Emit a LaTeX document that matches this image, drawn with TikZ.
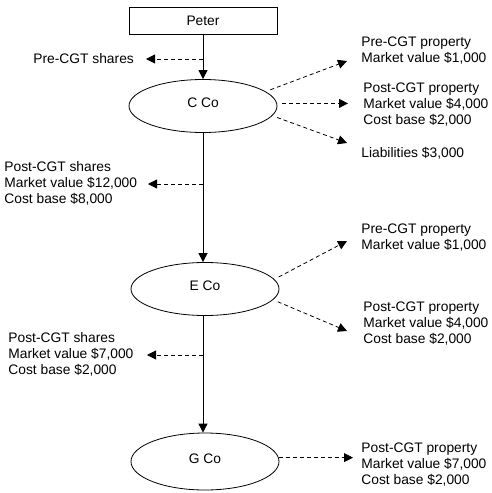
\documentclass[tikz,border=0pt]{standalone}
\usepackage{fontspec}
\setmainfont{Liberation Sans}
\usetikzlibrary{arrows.meta,shapes.geometric}
\tikzset{
  txt/.style = {inner sep = 0pt, anchor = west, align = left},
  co/.style = {draw, ellipse, minimum width = 148pt, minimum height = 53pt, inner sep = 0pt, text depth = 6pt},
  own/.style = {draw, -{Triangle[length = 9pt, width = 9pt]}},
  asset/.style = {draw, dash pattern = on 4pt off 3pt, -{Triangle[length = 9pt, width = 9pt]}}
}
\begin{document}
\begin{tikzpicture}[x = 1pt, y = -1pt, line width = 0.8pt, every node/.style = {font = \fontsize{13.8pt}{16pt}\selectfont}]
            \useasboundingbox (0,0) rectangle (491,493);
            % Peter
            \node[draw, minimum width = 148pt, minimum height = 27pt, inner sep = 0pt](peter)at(203,20.5){Peter};
            % 会社
            \node[co](cco)at(203,106){C Co};
            \node[co](eco)at(205,289){E Co};
            \node[co, minimum height = 57pt](gco)at(205,461.5){G Co};
            % 株式
            \node[txt](s1)at(33,59){Pre-CGT shares};
            \node[txt](s2)at(4,183){Post-CGT shares\\Market value \$12,000\\Cost base \$8,000};
            \node[txt](s3)at(8,354){Post-CGT shares\\Market value \$7,000\\Cost base \$2,000};
            % 資産 C Co
            \node[txt](a1)at(361,51){Pre-CGT property\\Market value \$1,000};
            \node[txt](a2)at(363,105){Post-CGT property\\Market value \$4,000\\Cost base \$2,000};
            \node[txt](a3)at(361,153){Liabilities \$3,000};
            % 資産 E Co
            \node[txt](a4)at(361,238){Pre-CGT property\\Market value \$1,000};
            \node[txt](a5)at(363,324){Post-CGT property\\Market value \$4,000\\Cost base \$2,000};
            % 資産 G Co
            \node[txt](a6)at(361,465){Post-CGT property\\Market value \$7,000\\Cost base \$2,000};
            % holding line
            \path[own](peter)to(cco);
            \path[own](cco.south)to(cco.south |- eco.north);
            \path[own](eco.south -| cco.south)to(cco.south |- gco.north);
            % shares
            \coordinate(j1)at(203,59);
            \coordinate(t1)at(146,59);
            \path[asset](j1)to(t1);
            \coordinate(j2)at(203,184);
            \coordinate(t2)at(148,184);
            \path[asset](j2)to(t2);
            \coordinate(j3)at(203,355);
            \coordinate(t3)at(147,355);
            \path[asset](j3)to(t3);
            % property
            \coordinate(t4)at(347,61);
            \coordinate(t5)at(348,0);
            \coordinate(t6)at(347,143);
            \path[asset, shorten <= 5pt](cco.13)to(t4);
            \path[asset, shorten <= 5pt](cco.2)to(cco.2 -| t5);
            \path[asset, shorten <= 5pt](cco.-8)to(t6);
            \coordinate(t7)at(347,241);
            \coordinate(t8)at(347,331);
            \path[asset, shorten <= 5pt](eco.8)to(t7);
            \path[asset, shorten <= 5pt](eco.-9)to(t8);
            \coordinate(t9)at(353,0);
            \path[asset](gco.3)to(gco.3 -| t9);
        \end{tikzpicture}
\end{document}
